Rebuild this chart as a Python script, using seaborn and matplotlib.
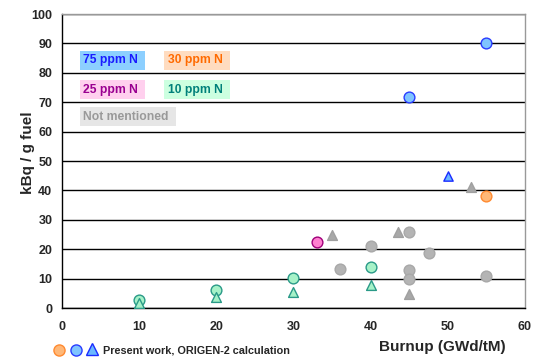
import matplotlib
matplotlib.use("Agg")
import matplotlib.pyplot as plt
from matplotlib.lines import Line2D
import seaborn as sns
import pandas as pd

sns.set_style("white")
plt.rcParams["font.family"] = ["Liberation Sans", "DejaVu Sans"]

# Measured / calculated activity (kBq per g fuel) against burnup (GWd/tM)
blue_circle_x = [45, 55]
blue_circle_y = [71.8, 90.0]
blue_tri_x = [50]
blue_tri_y = [45.0]
orange_circle_x = [55]
orange_circle_y = [38.1]
pink_circle_x = [33]
pink_circle_y = [22.4]
green_circle_x = [10, 20, 30, 40]
green_circle_y = [2.8, 6.1, 10.1, 14.1]
green_tri_x = [10, 20, 30, 40]
green_tri_y = [1.6, 3.8, 5.4, 7.7]
gray_circle_x = [36, 40, 45, 47.5, 45, 45, 55]
gray_circle_y = [13.2, 21.0, 26.0, 18.8, 12.8, 9.8, 11.0]
gray_tri_x = [35, 43.5, 53, 45]
gray_tri_y = [24.9, 26.0, 41.0, 4.6]

legend_labels = ["75 ppm N", "30 ppm N", "25 ppm N", "10 ppm N", "Not mentioned"]
x_ticks = [0, 10, 20, 30, 40, 50, 60]
y_ticks = [0, 10, 20, 30, 40, 50, 60, 70, 80, 90, 100]

series = [
    (blue_circle_x, blue_circle_y, "o", "#7fc4ff", "#2a3cff", 60),
    (blue_tri_x, blue_tri_y, "^", "#6ab8ff", "#1a2cff", 45),
    (orange_circle_x, orange_circle_y, "o", "#ffb878", "#ff8a30", 60),
    (pink_circle_x, pink_circle_y, "o", "#ff80d0", "#a0007a", 60),
    (green_circle_x, green_circle_y, "o", "#a6f2c8", "#2a9a88", 60),
    (green_tri_x, green_tri_y, "^", "#a6f2c8", "#2a9a88", 50),
    (gray_circle_x, gray_circle_y, "o", "#b4b4b4", "#a8a8a8", 60),
    (gray_tri_x, gray_tri_y, "^", "#a8a8a8", "#a0a0a0", 50),
]

fig = plt.figure(figsize=(5.42, 3.59), dpi=100)
ax = fig.add_axes([0.1144, 0.142, 0.8542, 0.819])

for xs, ys, mk, fc, ec, s in series:
    df = pd.DataFrame({"burnup": xs, "activity": ys})
    sns.scatterplot(data=df, x="burnup", y="activity", marker=mk, s=s,
                    color=fc, edgecolor=ec, linewidth=1.0, ax=ax, zorder=3)

ax.set_xlim(0, 60)
ax.set_ylim(0, 100)
ax.set_xticks(x_ticks)
ax.set_yticks(y_ticks)
ax.set_xticklabels([str(t) for t in x_ticks], fontweight="bold", fontsize=9)
ax.set_yticklabels([str(t) for t in y_ticks], fontweight="bold", fontsize=9)
ax.tick_params(axis="y", direction="out", length=4, width=0.8, color="black", pad=3)
ax.tick_params(axis="x", direction="out", length=3, width=0.8, color="black", pad=6)
ax.yaxis.grid(True, color="black", linewidth=1.0)
ax.set_axisbelow(True)

for side in ["left", "bottom"]:
    ax.spines[side].set_color("black")
    ax.spines[side].set_linewidth(1.0)
for side in ["top", "right"]:
    ax.spines[side].set_color("#999999")
    ax.spines[side].set_linewidth(1.0)

ax.set_xlabel("")
ax.set_ylabel("kBq / g fuel", fontweight="bold", fontsize=11)
ax.yaxis.set_label_coords(-0.058, 0.53)
fig.text(0.932, 0.034, "Burnup (GWd/tM)", fontweight="bold", fontsize=11,
         ha="right", va="center")

# group key boxes
box_specs = [
    (legend_labels[0], 0.046, 0.842, "#1a1aff", "#8ccfff"),
    (legend_labels[1], 0.229, 0.842, "#ff6a00", "#ffdcc0"),
    (legend_labels[2], 0.046, 0.743, "#990090", "#ffd0ee"),
    (legend_labels[3], 0.229, 0.743, "#00807a", "#ccffe0"),
    (legend_labels[4], 0.046, 0.651, "#999999", "#e6e6e6"),
]
for txt, bx, by, tc, bg in box_specs:
    ax.text(bx, by, txt + " ", transform=ax.transAxes, fontsize=8.7, fontweight="bold",
            color=tc, ha="left", va="center",
            bbox=dict(boxstyle="square,pad=0.3", facecolor=bg, edgecolor="none"))

# footnote key for the calculation markers
key_marks = [
    (0.109, 0.026, "o", "#ffb878", "#ff8a30"),
    (0.140, 0.026, "o", "#7fc4ff", "#2a3cff"),
    (0.170, 0.028, "^", "#6ab8ff", "#1a2cff"),
]
for kx, ky, mk, fc, ec in key_marks:
    fig.add_artist(Line2D([kx], [ky], marker=mk, markersize=8, markerfacecolor=fc,
                          markeredgecolor=ec, markeredgewidth=1.0, linestyle="none",
                          transform=fig.transFigure))
fig.text(0.190, 0.024, "Present work, ORIGEN-2 calculation", fontsize=7.8,
         fontweight="bold", ha="left", va="center")

fig.savefig("out.png", dpi=100)
